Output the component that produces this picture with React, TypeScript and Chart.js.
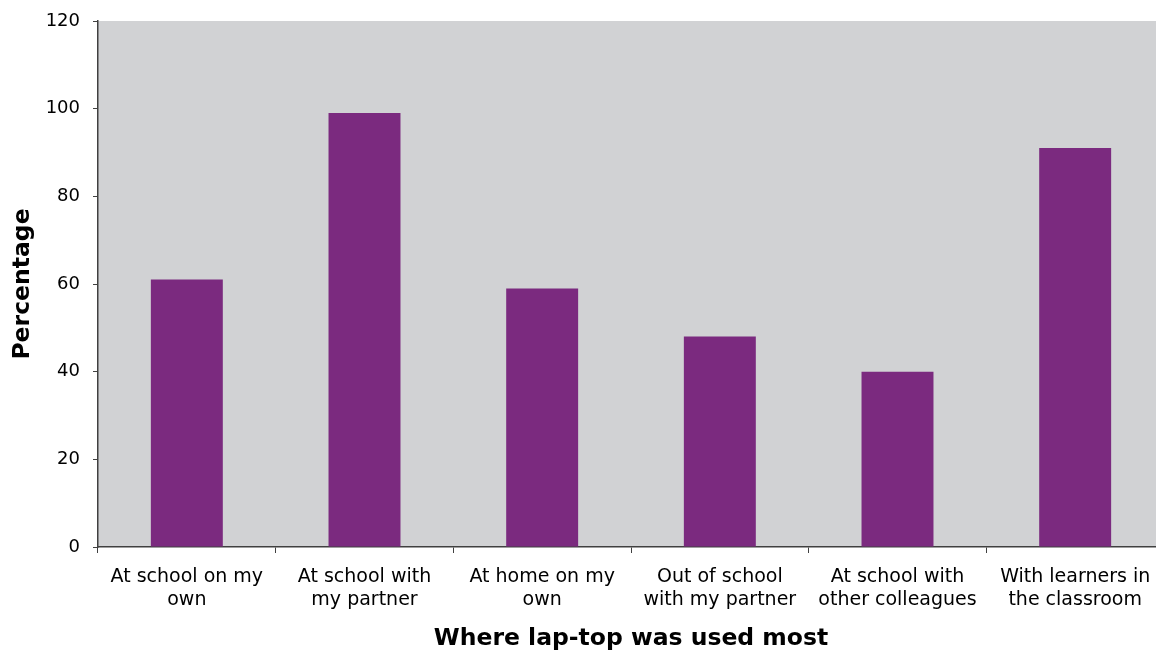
import React, { useEffect, useRef } from "react";
import { Chart, registerables } from "chart.js";

Chart.register(...registerables);

const categories: string[][] = [
  ["At school on my", "own"],
  ["At school with", "my partner"],
  ["At home on my", "own"],
  ["Out of school", "with my partner"],
  ["At school with", "other colleagues"],
  ["With learners in", "the classroom"],
];
const percentages: number[] = [61, 99, 59, 48, 40, 91];
const yTicks: number[] = [0, 20, 40, 60, 80, 100, 120];

const plotBg = {
  id: "plotBg",
  beforeDraw(chart: any) {
    const { ctx, chartArea } = chart;
    ctx.save();
    ctx.fillStyle = "#D1D2D4";
    ctx.fillRect(chartArea.left, chartArea.top, chartArea.right - chartArea.left, chartArea.bottom - chartArea.top);
    ctx.restore();
  },
};

export default function App() {
  const ref = useRef<HTMLCanvasElement>(null);
  useEffect(() => {
    if (!ref.current) return;
    const chart = new Chart(ref.current, {
      type: "bar",
      data: {
        labels: categories,
        datasets: [
          {
            data: percentages,
            backgroundColor: "#7B2A7F",
            borderWidth: 0,
            categoryPercentage: 1,
            barPercentage: 0.405,
          },
        ],
      },
      plugins: [plotBg],
      options: {
        responsive: false,
        animation: false,
        layout: { padding: { top: 21, left: 0, right: 0, bottom: 0 } },
        plugins: { legend: { display: false }, tooltip: { enabled: false } },
        scales: {
          x: {
            grid: {
              display: true,
              drawOnChartArea: false,
              drawTicks: true,
              tickLength: 6,
              color: "#404040",
              offset: true,
            },
            border: { display: true, color: "#404040", width: 1.5 },
            ticks: {
              color: "#000",
              font: { family: "DejaVu Sans", size: 19, lineHeight: 1.2 },
              maxRotation: 0,
              autoSkip: false,
              padding: 13,
            },
            title: {
              display: true,
              text: "Where lap-top was used most",
              color: "#000",
              font: { family: "DejaVu Sans", size: 23.5, weight: "bold" },
              padding: { top: 0, bottom: 0 },
            },
            afterFit: (s: any) => {
              s.height = 106;
              s.paddingLeft = 0;
              s.paddingRight = 0;
            },
          },
          y: {
            min: 0,
            max: 120,
            afterBuildTicks: (s: any) => {
              s.ticks = yTicks.map((v) => ({ value: v }));
            },
            grid: {
              display: true,
              drawOnChartArea: false,
              drawTicks: true,
              tickLength: 5,
              color: "#404040",
            },
            border: { display: true, color: "#404040", width: 1.5 },
            ticks: {
              color: "#000",
              font: { family: "DejaVu Sans", size: 18 },
              padding: 13,
            },
            title: {
              display: true,
              text: "Percentage",
              color: "#000",
              font: { family: "DejaVu Sans", size: 23.5, weight: "bold" },
              padding: { top: 9, bottom: 0 },
            },
            afterFit: (s: any) => {
              s.width = 98;
              s.paddingTop = 0;
              s.paddingBottom = 0;
            },
          },
        },
      },
    });
    return () => chart.destroy();
  }, []);
  return (
    <div style={{ position: "fixed", left: 0, top: 0, width: 1164, height: 653, background: "#fff" }}>
      <canvas ref={ref} width={1164} height={653} style={{ display: "block" }} />
    </div>
  );
}
